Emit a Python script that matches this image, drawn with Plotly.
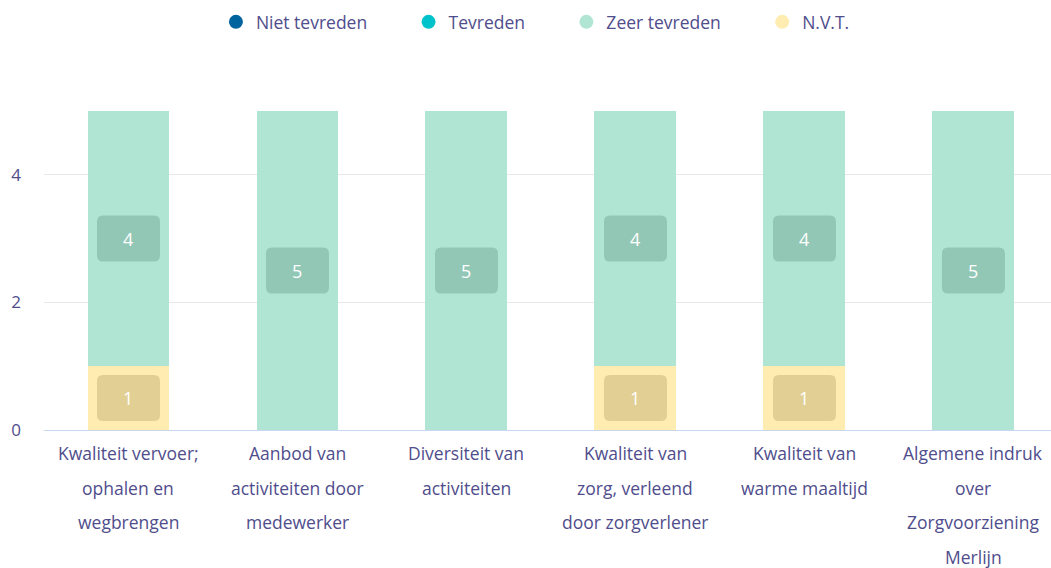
import plotly.graph_objects as go

categories = [
    "Kwaliteit vervoer;<br>ophalen en<br>wegbrengen",
    "Aanbod van<br>activiteiten door<br>medewerker",
    "Diversiteit van<br>activiteiten",
    "Kwaliteit van<br>zorg, verleend<br>door zorgverlener",
    "Kwaliteit van<br>warme maaltijd",
    "Algemene indruk<br>over<br>Zorgvoorziening<br>Merlijn",
]
niet_tevreden = [0, 0, 0, 0, 0, 0]
tevreden = [0, 0, 0, 0, 0, 0]
zeer_tevreden = [4, 5, 5, 4, 4, 5]
nvt = [1, 0, 0, 1, 1, 0]
y_ticks = [0, 2, 4]

FONT = "Open Sans"
TXT = "#4f4d8c"
series = [
    ("Niet tevreden", niet_tevreden, "#00639e", "#00639e"),
    ("Tevreden", tevreden, "#00c2cb", "#00a3aa"),
    ("Zeer tevreden", zeer_tevreden, "#b1e5d3", "#93c7b5"),
    ("N.V.T.", nvt, "#feecb1", "#e1cf93"),
]
stack_order = [3, 0, 1, 2]

xs = list(range(len(categories)))
fig = go.Figure()
for idx in stack_order:
    name, vals, col, _ = series[idx]
    fig.add_trace(go.Bar(x=xs, y=vals, name=name, marker=dict(color=col, line=dict(width=0)),
                         width=0.485, showlegend=False, hoverinfo="y+name"))
for k, (name, vals, col, _) in enumerate(series):
    pad = "\u00a0" * 8 if k < len(series) - 1 else ""
    fig.add_trace(go.Scatter(x=[None], y=[None], mode="markers", name=name + pad,
                             marker=dict(color=col, size=14, symbol="circle")))

shapes = []
annotations = []
base = [0] * len(categories)
for idx in stack_order:
    name, vals, col, dark = series[idx]
    for i, v in enumerate(vals):
        if v > 0:
            yc = base[i] + v / 2
            w, h, r = 31.5, 23, 6
            path = (f"M {-w+r},{-h} L {w-r},{-h} Q {w},{-h} {w},{-h+r} L {w},{h-r} Q {w},{h} {w-r},{h} "
                    f"L {-w+r},{h} Q {-w},{h} {-w},{h-r} L {-w},{-h+r} Q {-w},{-h} {-w+r},{-h} Z")
            shapes.append(dict(type="path", xref="x", yref="y", xsizemode="pixel", ysizemode="pixel",
                               xanchor=i, yanchor=yc, path=path, fillcolor=dark, line=dict(width=0)))
            annotations.append(dict(x=i, y=yc, xref="x", yref="y", text=str(v), showarrow=False,
                                    font=dict(family=FONT, size=18, color="white")))
        base[i] += v

for i, lab in enumerate(categories):
    for j, line in enumerate(lab.split("<br>")):
        annotations.append(dict(x=i, y=0, xref="x", yref="paper", yanchor="middle", text=line,
                                showarrow=False, yshift=-23 - 34.7 * j,
                                font=dict(family=FONT, size=17.5, color=TXT)))

fig.update_layout(
    width=1051, height=568,
    margin=dict(l=44, r=0, t=111, b=138),
    barmode="stack",
    plot_bgcolor="white", paper_bgcolor="white",
    font=dict(family=FONT, size=16, color=TXT),
    showlegend=True,
    legend=dict(orientation="h", x=0.488, xanchor="center", yref="container", y=0.993, yanchor="top",
                traceorder="normal",
                font=dict(family=FONT, size=17.5, color=TXT), itemwidth=30),
    xaxis=dict(range=[-0.5, 5.459], showticklabels=False, showgrid=False, zeroline=False,
               showline=True, linecolor="#c9d6f0", linewidth=1, fixedrange=True),
    yaxis=dict(range=[0, 5], tickvals=y_ticks, showgrid=True, gridcolor="#e8e8e8", zeroline=False,
               showline=False, ticks="", ticklabelstandoff=22,
               tickfont=dict(family=FONT, size=17, color=TXT)),
    shapes=shapes,
    annotations=annotations,
)
fig.write_html("out.html", config={"displayModeBar": False},
               post_script="document.body.style.margin='0';")
